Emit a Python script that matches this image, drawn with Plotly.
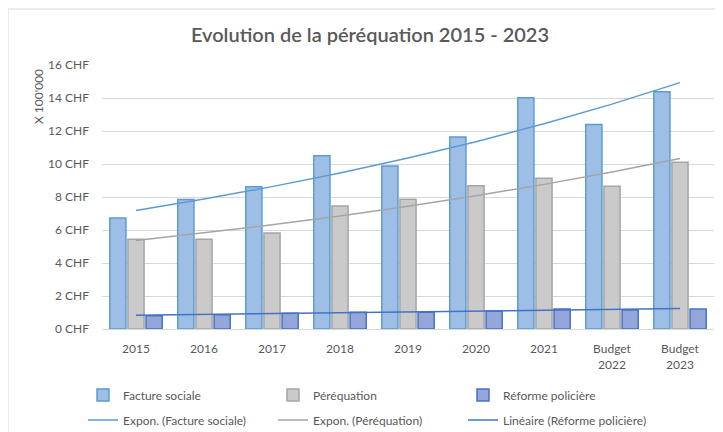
import numpy as np
import plotly.graph_objects as go

categories = ["2015", "2016", "2017", "2018", "2019", "2020", "2021", "Budget<br>2022", "Budget<br>2023"]
facture_sociale = [6.73, 7.85, 8.62, 10.5, 9.88, 11.64, 14.02, 12.4, 14.38]
perequation = [5.44, 5.44, 5.82, 7.45, 7.86, 8.68, 9.13, 8.65, 10.1]
reforme_policiere = [0.81, 0.87, 0.95, 1.01, 1.01, 1.09, 1.21, 1.15, 1.21]
y_ticks = [0, 2, 4, 6, 8, 10, 12, 14, 16]
y_tick_labels = [f"{v} CHF" for v in y_ticks]

xs = np.arange(1, len(categories) + 1)

def expon(vals):
    b, a = np.polyfit(xs, np.log(vals), 1)
    return list(np.exp(a + b * xs))

def linear(vals):
    b, a = np.polyfit(xs, vals, 1)
    return list(a + b * xs)

txt = "#595959"
font = "Lato"

# page body has an 8px margin; shift the layout up/left by 8px to compensate
OFF = 8
W, H = 723, 440
PX0, PY0, PW, PH = 102, 65, 612, 264   # plot area in reference pixels
L, T = PX0 - OFF, PY0 - OFF

def px(x):
    return (x - PX0) / PW

def py(y):
    return (PY0 + PH - y) / PH

fig = go.Figure()
fig.add_trace(go.Bar(x=categories, y=facture_sociale, name="Facture sociale", legend="legend",
                     marker=dict(color="#9dbfe6", line=dict(color="#5b9bd5", width=1.5))))
fig.add_trace(go.Bar(x=categories, y=perequation, name="Péréquation", legend="legend",
                     marker=dict(color="#cacaca", line=dict(color="#a5a5a5", width=1.5))))
fig.add_trace(go.Bar(x=categories, y=reforme_policiere, name="Réforme policière", legend="legend",
                     marker=dict(color="#95a6dc", line=dict(color="#4472c4", width=1.5))))
fig.add_trace(go.Scatter(x=categories, y=expon(facture_sociale), mode="lines", legend="legend2",
                         name="Expon. (Facture sociale)", line=dict(color="#5b9bd5", width=1.5)))
fig.add_trace(go.Scatter(x=categories, y=expon(perequation), mode="lines", legend="legend2",
                         name="Expon. (Péréquation)", line=dict(color="#a5a5a5", width=1.5)))
fig.add_trace(go.Scatter(x=categories, y=linear(reforme_policiere), mode="lines", legend="legend2",
                         name="Linéaire (Réforme policière)", line=dict(color="#4472c4", width=1.5)))

leg_common = dict(orientation="h", x=px(83), xanchor="left", yanchor="middle",
                  entrywidth=145, entrywidthmode="pixels",
                  font=dict(size=12, color=txt, family=font), itemwidth=30,
                  bgcolor="rgba(0,0,0,0)")

fig.update_layout(
    width=W, height=H,
    margin=dict(l=L, r=W - L - PW, t=T, b=H - T - PH),
    paper_bgcolor="white", plot_bgcolor="white",
    font=dict(family=font, size=12, color=txt),
    barmode="group", bargap=0.2, bargroupgap=0.11,
    title=dict(text="Evolution de la péréquation 2015 - 2023", x=(370 - OFF) / W, xanchor="center",
               y=1 - (35 - OFF) / H, yanchor="middle",
               font=dict(size=20, color=txt, family=font, weight=600)),
    legend=dict(**leg_common, y=py(395)),
    legend2=dict(**leg_common, y=py(420)),
    showlegend=True,
)
fig.update_xaxes(showline=True, linecolor="#d9d9d9", linewidth=1, ticks="", showgrid=False,
                 tickfont=dict(size=12, color=txt), ticklabelstandoff=9)
fig.update_yaxes(range=[0, 16], tickmode="array", tickvals=y_ticks, ticktext=y_tick_labels,
                 showgrid=True, gridcolor="#d9d9d9", gridwidth=1, zeroline=False, showline=False,
                 tickfont=dict(size=12, color=txt), ticklabelstandoff=12)
fig.add_annotation(text="X 100'000", xref="paper", yref="paper", x=px(38), y=py(97),
                   textangle=-90, showarrow=False, font=dict(size=12, color=txt), xanchor="center", yanchor="middle")
fig.add_shape(type="rect", xref="paper", yref="paper", x0=px(8), x1=px(735),
              y0=py(440), y1=py(9), line=dict(color="#d9d9d9", width=1), layer="below")

fig.write_html("out.html")
